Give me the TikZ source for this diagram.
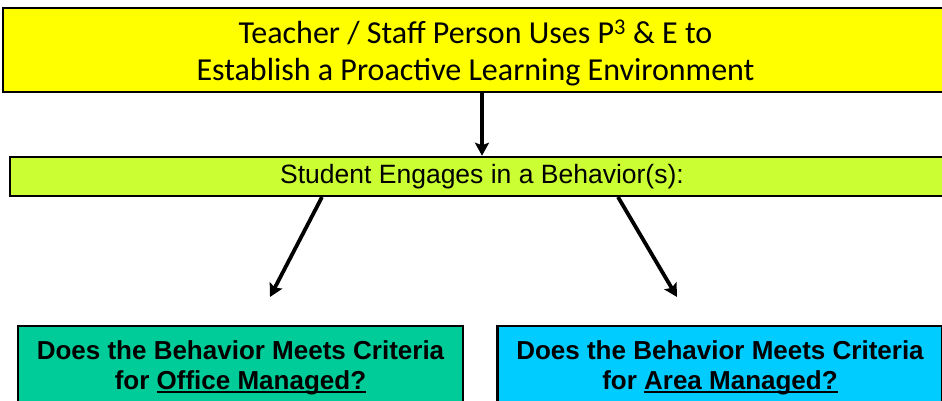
\documentclass[tikz,border=0pt]{standalone}
\usepackage{fontspec}
\setmainfont{Liberation Sans}
\newfontfamily\calib{Carlito}
\usetikzlibrary{arrows.meta}
\definecolor{topyellow}{HTML}{FFFF00}
\definecolor{limegreen}{HTML}{CCFF33}
\definecolor{seagreen}{HTML}{00CC99}
\definecolor{skyblue}{HTML}{00CCFF}
\newcommand{\thickul}[1]{\setbox0\hbox{#1}\leavevmode\rlap{\rule[-4pt]{\wd0}{2.2pt}}\box0}
\tikzset{
  boxstyle/.style={draw=black, line width=2.5pt, align=center, inner sep=0pt},
  arr/.style={line width=3.8pt, -{Stealth[length=13pt,width=14pt,inset=2.5pt]}},
  bottomtext/.style={font=\fontsize{26}{29.5}\selectfont\bfseries},
}
\begin{document}
\begin{tikzpicture}[x=1pt,y=-1pt]
\useasboundingbox (0,0) rectangle (942,401);
\clip (0,0) rectangle (942,401);
\node[boxstyle, fill=topyellow, minimum width=945pt, minimum height=84pt,
      font=\calib\fontsize{32}{37}\selectfont] (top) at (475.5,50)
  {\rule{0pt}{30pt}Teacher / Staff Person Uses P\textsuperscript{3} \& E to\\Establish a Proactive Learning Environment};
\node[boxstyle, fill=limegreen, minimum width=944pt, minimum height=39pt,
      font=\fontsize{26.5}{30}\selectfont] (mid) at (482,176.5)
  {Student Engages in a Behavior(s):};
\node[boxstyle, fill=seagreen, minimum width=445pt, minimum height=84pt, bottomtext] (office) at (240.5,368)
  {Does the Behavior Meets Criteria\\for \thickul{Office Managed?}};
\node[boxstyle, fill=skyblue, minimum width=445pt, minimum height=84pt, bottomtext] (area) at (720,368)
  {Does the Behavior Meets Criteria\\for \thickul{Area Managed?}};
\coordinate (ls) at (322,197);
\coordinate (le) at (270,297);
\coordinate (rs) at (618,197);
\coordinate (re) at (677,297);
\draw[arr] (mid.north |- top.south) -- (mid.north);
\draw[arr] (ls) -- (le);
\draw[arr] (rs) -- (re);
\end{tikzpicture}
\end{document}
